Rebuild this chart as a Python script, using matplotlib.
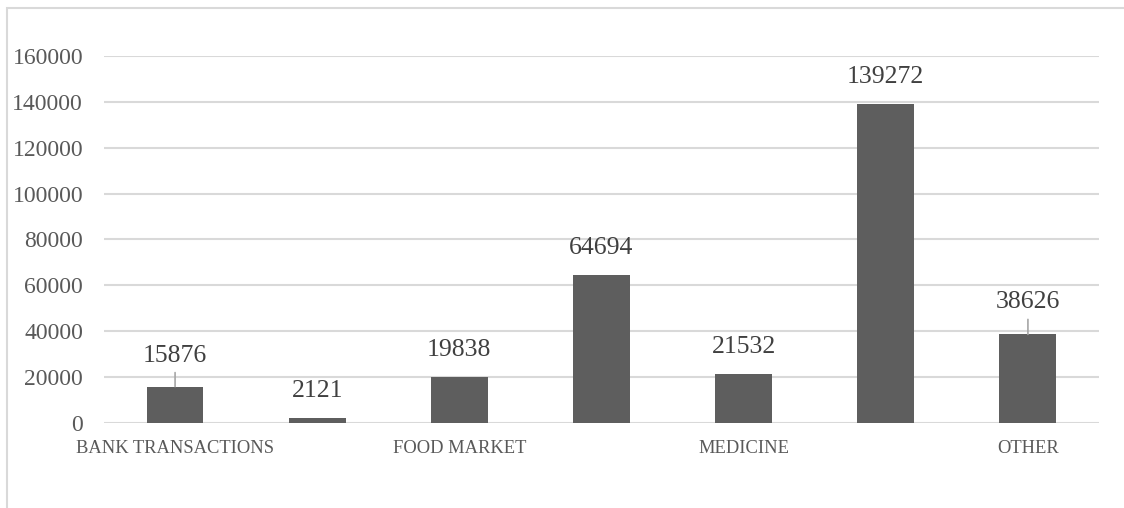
import matplotlib
matplotlib.use("Agg")
import matplotlib.pyplot as plt
from matplotlib.patches import Rectangle
import numpy as np

# данные с картинки
categories = ["BANK TRANSACTIONS", "", "FOOD MARKET", "", "MEDICINE", "", "OTHER"]
values = [15876, 2121, 19838, 64694, 21532, 139272, 38626]
y_ticks = [0, 20000, 40000, 60000, 80000, 100000, 120000, 140000, 160000]

plt.rcParams['font.family'] = ['Liberation Serif', 'DejaVu Serif']

fig = plt.figure(figsize=(11.24, 5.08), dpi=100)
ax = fig.add_axes([104 / 1124, 1 - 423 / 508, 995 / 1124, 367 / 508])

x = np.arange(len(values))
bars = ax.bar(x, values, width=0.4, color='#5e5e5e', zorder=3)

ax.set_xlim(-0.5, len(values) - 0.5)
ax.set_ylim(0, 160000)
ax.set_yticks(y_ticks)
ax.set_yticklabels([str(t) for t in y_ticks])
ax.set_xticks(x)
ax.set_xticklabels(categories)

ax.grid(axis='y', color='#d9d9d9', linewidth=1.5, zorder=0)
for s in ax.spines.values():
    s.set_visible(False)
ax.tick_params(axis='y', length=0, pad=15, labelsize=17, labelcolor='#595959')
ax.tick_params(axis='x', length=0, pad=12, labelsize=13.3, labelcolor='#595959')

# подписи значений; у двух подписей есть выноски
leader = {0: 31, 6: 32}
for i, (b, v) in enumerate(zip(bars, values)):
    off = leader.get(i, 27)
    ax.annotate(str(v), (b.get_x() + b.get_width() / 2, v),
                xytext=(0, off * 0.72), textcoords='offset points',
                ha='center', va='center', fontsize=18.5, color='#404040')
    if i in leader:
        ax.annotate('', (b.get_x() + b.get_width() / 2, v),
                    xytext=(0, (off - 17) * 0.72), textcoords='offset points',
                    arrowprops=dict(arrowstyle='-', color='#a6a6a6', lw=1.2,
                                    shrinkA=0, shrinkB=0))

# рамка диаграммы (обрезана справа и снизу)
fig.patches.append(Rectangle((7 / 1124, -0.1), 1.2, 1.1 - 8 / 508,
                             transform=fig.transFigure, fill=False,
                             edgecolor='#d9d9d9', linewidth=1.5))

fig.savefig('out.png', dpi=100)
